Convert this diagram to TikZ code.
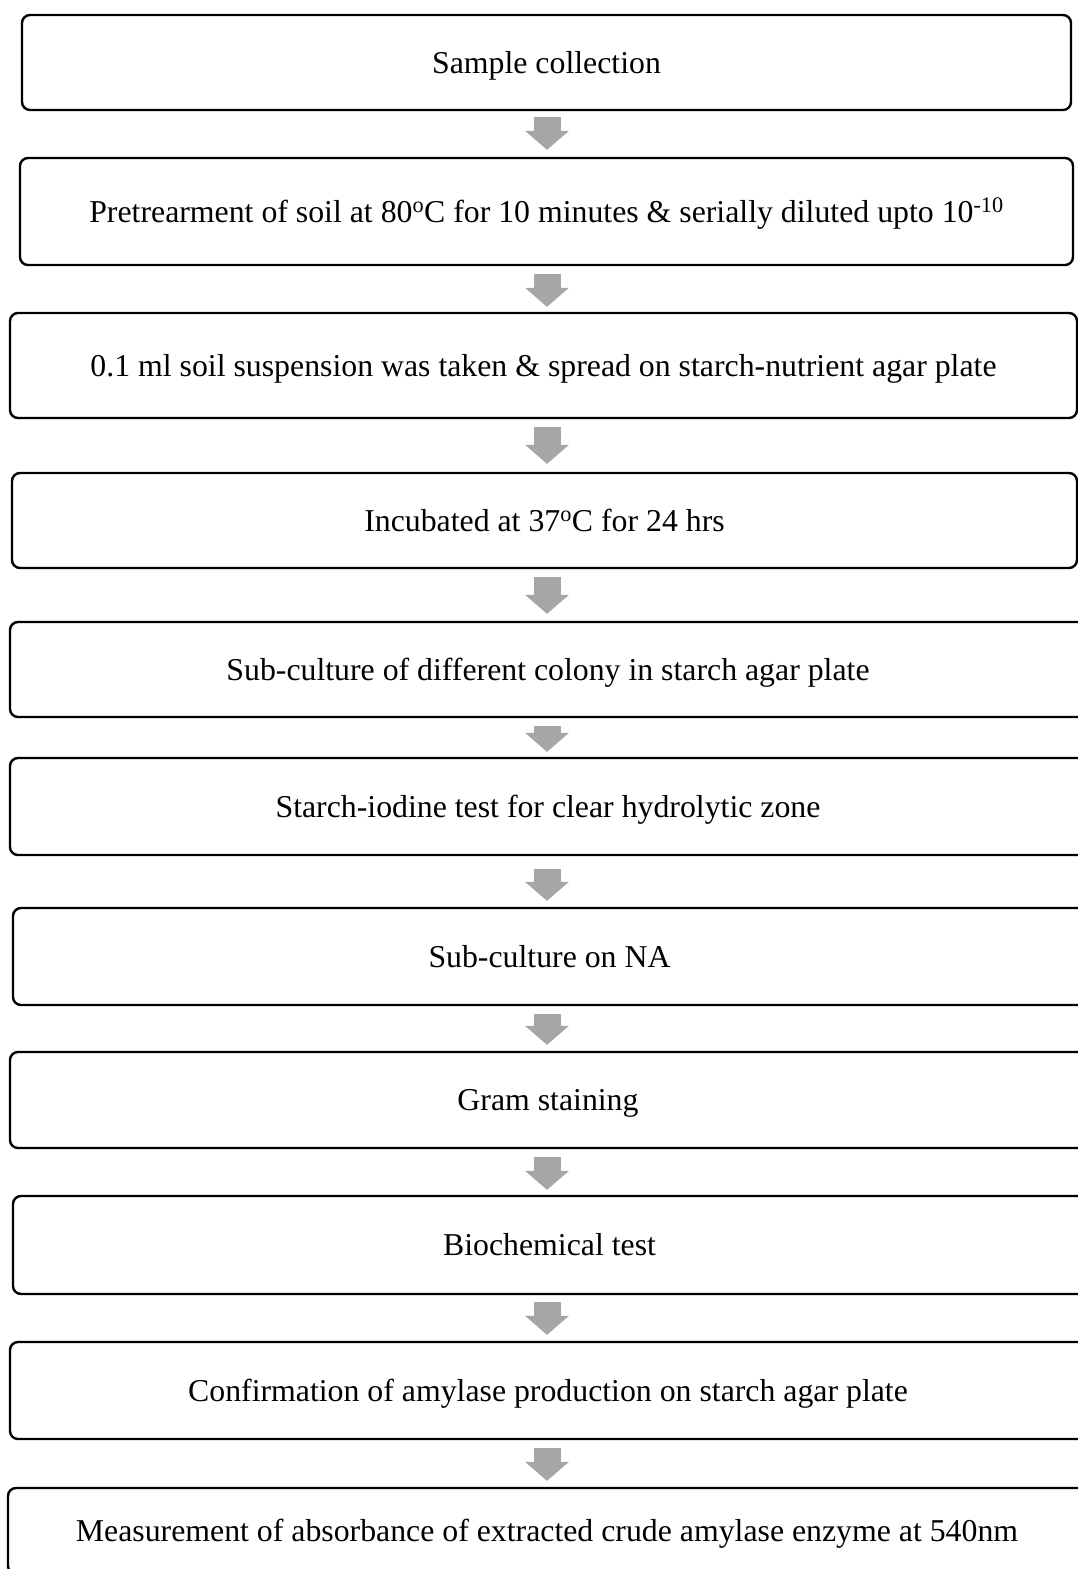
\documentclass[tikz,border=0pt]{standalone}
\usepackage{fontspec}
\setmainfont{Liberation Serif}
\usetikzlibrary{arrows.meta}
\definecolor{arrowgray}{RGB}{166,166,166}
\tikzset{
  stepbox/.style={draw=black, line width=2.4pt, rounded corners=8pt, inner sep=0pt,
    text height=26pt, text depth=5pt,
    font=\fontsize{31.8}{38}\selectfont},
  flowarrow/.style={draw=arrowgray, line width=27pt,
    -{Triangle[width=44pt,length=19pt,line width=0pt]},
    shorten <=8pt, shorten >=6pt}
}
\begin{document}
\begin{tikzpicture}[x=1pt,y=-1pt]
\useasboundingbox (0,0) rectangle (1078,1569);
\clip (0,0) rectangle (1078,1569);
\coordinate (axis) at (547,0);

% steps
\node[stepbox,minimum width=1049pt,minimum height=95pt] (collect) at (546.5,62.5) {Sample collection};
\node[stepbox,minimum width=1053pt,minimum height=107pt] (pretreat) at (546.5,211.5) {Pretrearment of soil at 80\textsuperscript{o}C for 10 minutes \& serially diluted upto 10\textsuperscript{-10}};
\node[stepbox,minimum width=1067pt,minimum height=105pt] (spread) at (543.5,365.5) {0.1 ml soil suspension was taken \& spread on starch-nutrient agar plate};
\node[stepbox,minimum width=1065pt,minimum height=95pt] (incubate) at (544.5,520.5) {Incubated at 37\textsuperscript{o}C for 24 hrs};
\node[stepbox,minimum width=1076pt,minimum height=95pt] (subcult) at (548,669.5) {Sub-culture of different colony in starch agar plate};
\node[stepbox,minimum width=1076pt,minimum height=97pt] (iodine) at (548,806.5) {Starch-iodine test for clear hydrolytic zone};
\node[stepbox,minimum width=1073pt,minimum height=97pt] (subna) at (549.5,956.5) {Sub-culture on NA};
\node[stepbox,minimum width=1076pt,minimum height=96pt] (gram) at (548,1100) {Gram staining};
\node[stepbox,minimum width=1073pt,minimum height=98pt] (biochem) at (549.5,1245) {Biochemical test};
\node[stepbox,minimum width=1076pt,minimum height=97pt] (confirm) at (548,1390.5) {Confirmation of amylase production on starch agar plate};
\node[stepbox,minimum width=1078pt,minimum height=86pt] (measure) at (547,1531) {Measurement of absorbance of extracted crude amylase enzyme at 540nm};

% arrows
\draw[flowarrow,shorten <=6pt,shorten >=7pt] (collect.south -| axis) -- (pretreat.north -| axis);
\draw[flowarrow,shorten >=5pt] (pretreat.south -| axis) -- (spread.north -| axis);
\draw[flowarrow,shorten >=8pt] (spread.south -| axis) -- (incubate.north -| axis);
\draw[flowarrow,shorten >=7pt] (incubate.south -| axis) -- (subcult.north -| axis);
\draw[flowarrow,shorten >=5pt] (subcult.south -| axis) -- (iodine.north -| axis);
\draw[flowarrow,shorten <=13pt] (iodine.south -| axis) -- (subna.north -| axis);
\draw[flowarrow] (subna.south -| axis) -- (gram.north -| axis);
\draw[flowarrow,shorten >=5pt] (gram.south -| axis) -- (biochem.north -| axis);
\draw[flowarrow,shorten <=7pt] (biochem.south -| axis) -- (confirm.north -| axis);
\draw[flowarrow] (confirm.south -| axis) -- (measure.north -| axis);
\end{tikzpicture}
\end{document}
